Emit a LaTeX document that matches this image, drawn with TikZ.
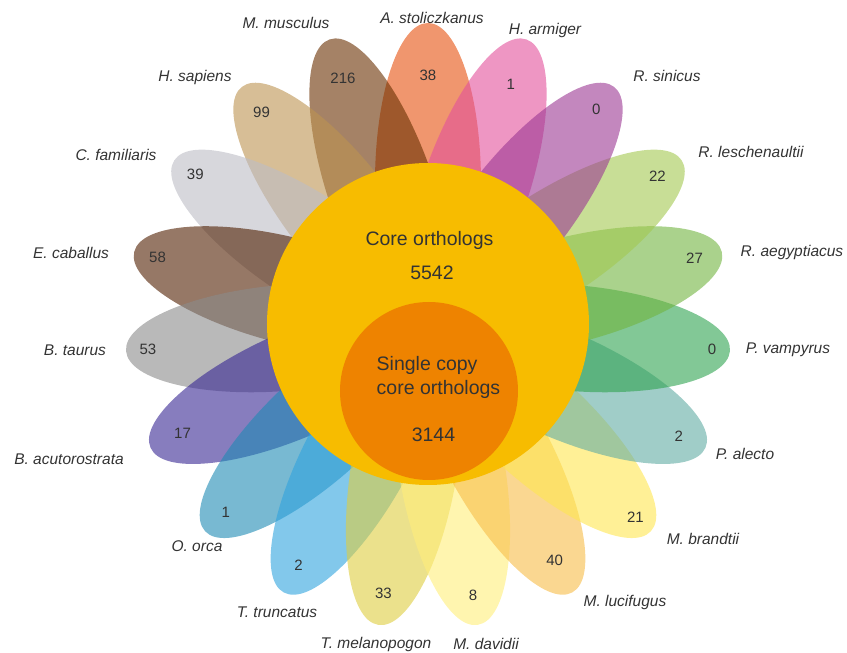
\documentclass[tikz,border=0pt]{standalone}
\usepackage{fontspec}
\setmainfont{Liberation Sans}

\definecolor{csto}{HTML}{E6500D}
\definecolor{carm}{HTML}{E3509B}
\definecolor{csin}{HTML}{9B3793}
\definecolor{cles}{HTML}{A3C850}
\definecolor{caeg}{HTML}{71B43F}
\definecolor{cvam}{HTML}{2FA350}
\definecolor{cale}{HTML}{61ACA3}
\definecolor{cbra}{HTML}{FFE650}
\definecolor{cluc}{HTML}{F7BC48}
\definecolor{cdav}{HTML}{FFEE7A}
\definecolor{cmel}{HTML}{DECD3F}
\definecolor{ctru}{HTML}{2FA3DE}
\definecolor{corc}{HTML}{1E8AB4}
\definecolor{cacu}{HTML}{372693}
\definecolor{ctau}{HTML}{8A8A8A}
\definecolor{ccab}{HTML}{501E00}
\definecolor{cfam}{HTML}{BCBCC5}
\definecolor{csap}{HTML}{BC9350}
\definecolor{cmus}{HTML}{692F00}
\definecolor{coreyellow}{HTML}{F7BC00}
\definecolor{singleorange}{HTML}{EE8300}
\definecolor{txtgrey}{HTML}{333333}

\begin{document}
\begin{tikzpicture}[
	x=1pt, y=1pt,
	petal/.style={fill=#1, fill opacity=0.6},
	count/.style={font=\fontsize{15}{18}\selectfont, text=txtgrey},
	species/.style={font=\fontsize{15.5}{18}\selectfont\itshape, text=txtgrey},
	setbox/.style={circle, inner sep=0pt, minimum size=#1},
	settext/.style={font=\fontsize{19.5}{24}\selectfont, text=txtgrey}
	]
	
	\useasboundingbox (-428,-327) rectangle (419,326);
	
	% Petals (19 species), in stacking order
	\foreach \k/\col in {0/csto,18/cmus,17/csap,16/cfam,15/ccab,14/ctau,13/cacu,12/corc,11/ctru,
		10/cmel,9/cdav,8/cluc,7/cbra,6/cale,5/cvam,4/caeg,3/cles,1/carm,2/csin} {
		\pgfmathsetmacro{\ang}{90-\k*360/19}
		\fill[petal=\col, rotate=\ang] (143,0) ellipse [x radius=160pt, y radius=53pt];
	}
	
	% Species-specific counts
	\foreach \k/\r/\num in {0/251/38,1/255/1,2/274/0,3/274/22,4/275/27,5/285/0,6/274/2,7/282/21,8/266/40,
		9/273/8,10/271/33,11/272/2,12/275/1,13/268/17,14/281/53,15/279/58,16/278/39,17/271/99,18/262/216}
		\node[count] (n\k) at ({90-\k*360/19}:\r) {\num};
	
	% Core sets
	\node[setbox=322pt, fill=coreyellow] (core) at (0,2) {};
	\node[setbox=178pt, fill=singleorange] (single) at (1,-65) {};
	
	\node[settext] (coretitle) at (1.5,86) {Core orthologs};
	\node[settext] (corenum) at (4,53) {5542};
	\node[settext, align=left] (singletitle) at (10.5,-51) {Single copy\\core orthologs};
	\node[settext] (singlenum) at (5.5,-109) {3144};
	
	% Species labels
	\node[species] (asto) at (4,308) {A. stoliczkanus};
	\node[species] (harm) at (117,296) {H. armiger};
	\node[species] (rsin) at (239,250) {R. sinicus};
	\node[species] (rles) at (323,174) {R. leschenaultii};
	\node[species] (raeg) at (364,74) {R. aegyptiacus};
	\node[species] (pvam) at (360,-24) {P. vampyrus};
	\node[species] (pale) at (317,-128) {P. alecto};
	\node[species] (mbra) at (275,-213) {M. brandtii};
	\node[species] (mluc) at (197,-276) {M. lucifugus};
	\node[species] (mdav) at (58,-318) {M. davidii};
	\node[species] (tmel) at (-52,-318) {T. melanopogon};
	\node[species] (ttru) at (-151,-286) {T. truncatus};
	\node[species] (oorc) at (-231,-220) {O. orca};
	\node[species] (bacu) at (-359,-133) {B. acutorostrata};
	\node[species] (btau) at (-353,-24) {B. taurus};
	\node[species] (ecab) at (-357,73) {E. caballus};
	\node[species] (cfam) at (-312,171) {C. familiaris};
	\node[species] (hsap) at (-233,249) {H. sapiens};
	\node[species] (mmus) at (-142,303) {M. musculus};
	
\end{tikzpicture}
\end{document}
